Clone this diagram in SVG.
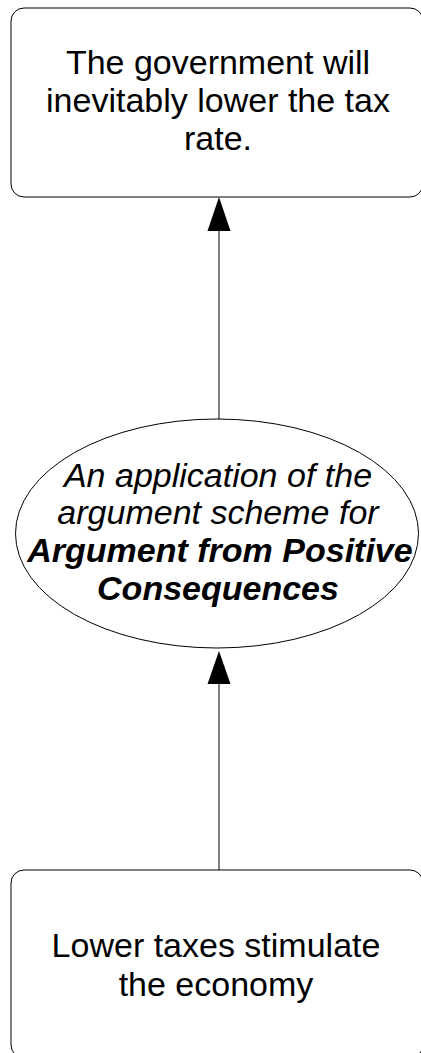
<svg xmlns="http://www.w3.org/2000/svg" width="421" height="1053" viewBox="0 0 421 1053">
  <style>
    .box { fill: #fff; stroke: #000; stroke-width: 1; }
    .txt { font-family: "Liberation Sans", Arial, sans-serif; font-size: 34px; fill: #000; text-anchor: middle; }
    .it { font-style: italic; }
    .bi { font-style: italic; font-weight: bold; }
    .edge { stroke: #000; stroke-width: 1; fill: none; }
  </style>
  <defs>
    <marker id="arrow" markerWidth="23" markerHeight="34" refX="11.5" refY="0" orient="auto-start-reverse" markerUnits="userSpaceOnUse" viewBox="0 0 23 34">
      <path d="M11.5 0 L23 34 L0 34 Z" fill="#000"/>
    </marker>
  </defs>
  <rect width="421" height="1053" fill="#fff"/>

  <g id="connectors">
    <path class="edge" d="M219 419 L219 231"/>
    <path d="M219 197 L230.5 231 L207.5 231 Z" fill="#000"/>
    <path class="edge" d="M219 870 L219 684"/>
    <path d="M219 651 L230.5 684 L207.5 684 Z" fill="#000"/>
  </g>

  <g id="conclusion">
    <rect class="box" x="11" y="8" width="412" height="189" rx="13" ry="13"/>
    <text class="txt" x="218" y="74">The government will</text>
    <text class="txt" x="218" y="112">inevitably lower the tax</text>
    <text class="txt" x="218" y="150">rate.</text>
  </g>

  <g id="scheme">
    <ellipse cx="217" cy="533.5" rx="201.5" ry="114.5" fill="#fff" stroke="#000" stroke-width="1"/>
    <text class="txt it" x="218" y="487">An application of the</text>
    <text class="txt it" x="218" y="524">argument scheme for</text>
    <text class="txt bi" x="220" y="562">Argument from Positive</text>
    <text class="txt bi" x="218" y="600">Consequences</text>
  </g>

  <g id="premise">
    <rect class="box" x="11" y="870" width="412" height="188" rx="13" ry="13"/>
    <text class="txt" x="216" y="957">Lower taxes stimulate</text>
    <text class="txt" x="216" y="996">the economy</text>
  </g>
</svg>
